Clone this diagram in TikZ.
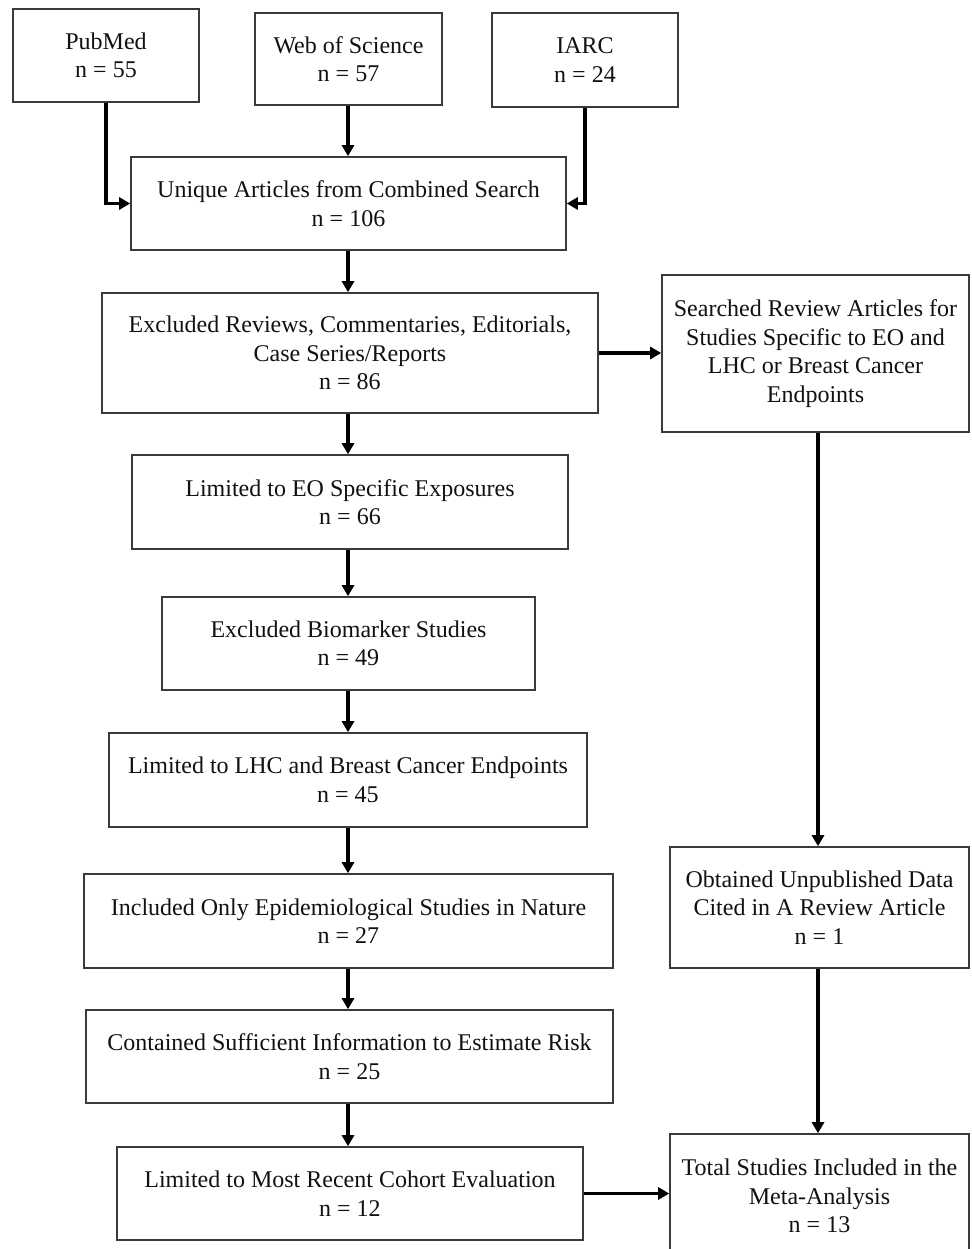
\documentclass[tikz,border=0pt]{standalone}
\usepackage{fontspec}
\setmainfont{Liberation Serif}
\usetikzlibrary{arrows.meta}
\definecolor{boxline}{HTML}{3A3A3A}
\definecolor{txt}{HTML}{111111}
\tikzset{
  fbox/.style={draw=boxline, line width=1.6pt, fill=white, inner sep=0pt, align=center,
    text=txt, font=\fontsize{24}{28.5}\selectfont},
  arr/.style={draw=black, line width=3.2pt,
    -{Triangle[length=11pt,width=12pt]}}
}
\begin{document}
\begin{tikzpicture}[x=1pt,y=-1pt]
\useasboundingbox (0,0) rectangle (971,1249);
\fill[white] (0,0) rectangle (971,1249);
\coordinate (mx) at (348,0);
\coordinate (rx) at (818,0);

\node[fbox, minimum width=186pt, minimum height=93pt] (pub) at (106,55.5) {PubMed\\n = 55};
\node[fbox, minimum width=187pt, minimum height=92pt] (wos) at (348.5,59) {Web of Science\\n = 57};
\node[fbox, minimum width=186pt, minimum height=94pt] (iarc) at (585,60) {IARC\\n = 24};
\node[fbox, minimum width=435pt, minimum height=93pt] (uniq) at (348.5,203.5) {Unique Articles from Combined Search\\n = 106};
\node[fbox, minimum width=496pt, minimum height=120pt] (excl) at (350,353) {Excluded Reviews, Commentaries, Editorials,\\Case Series/Reports\\n = 86};
\node[fbox, minimum width=307pt, minimum height=157pt] (srch) at (815.5,353.5) {Searched Review Articles for\\Studies Specific to EO and\\LHC or Breast Cancer\\Endpoints};
\node[fbox, minimum width=436pt, minimum height=94pt] (eo) at (350,502) {Limited to EO Specific Exposures\\n = 66};
\node[fbox, minimum width=373pt, minimum height=93pt] (bio) at (348.5,643.5) {Excluded Biomarker Studies\\n = 49};
\node[fbox, minimum width=478pt, minimum height=94pt] (lhc) at (348,780) {Limited to LHC and Breast Cancer Endpoints\\n = 45};
\node[fbox, minimum width=529pt, minimum height=94pt] (incl) at (348.5,921) {Included Only Epidemiological Studies in Nature\\n = 27};
\node[fbox, minimum width=299pt, minimum height=121pt] (obt) at (819.5,907.5) {Obtained Unpublished Data\\Cited in A Review Article\\n = 1};
\node[fbox, minimum width=527pt, minimum height=93pt] (cont) at (349.5,1056.5) {Contained Sufficient Information to Estimate Risk\\n = 25};
\node[fbox, minimum width=466pt, minimum height=93pt] (rec) at (350,1193.5) {Limited to Most Recent Cohort Evaluation\\n = 12};
\node[fbox, minimum width=299pt, minimum height=124pt] (tot) at (819.5,1196) {Total Studies Included in the\\Meta-Analysis\\n = 13};

\draw[arr] (pub.south) |- (uniq.west);
\draw[arr] (wos.south -| mx) -- (uniq.north -| mx);
\draw[arr] (iarc.south) |- (uniq.east);
\draw[arr] (uniq.south -| mx) -- (excl.north -| mx);
\draw[arr] (excl.east) -- (srch.west |- excl.east);
\draw[arr] (excl.south -| mx) -- (eo.north -| mx);
\draw[arr] (eo.south -| mx) -- (bio.north -| mx);
\draw[arr] (bio.south -| mx) -- (lhc.north -| mx);
\draw[arr] (lhc.south -| mx) -- (incl.north -| mx);
\draw[arr] (incl.south -| mx) -- (cont.north -| mx);
\draw[arr] (cont.south -| mx) -- (rec.north -| mx);
\draw[arr] (rec.east) -- (tot.west |- rec.east);
\draw[arr] (srch.south -| rx) -- (obt.north -| rx);
\draw[arr] (obt.south -| rx) -- (tot.north -| rx);
\end{tikzpicture}
\end{document}
